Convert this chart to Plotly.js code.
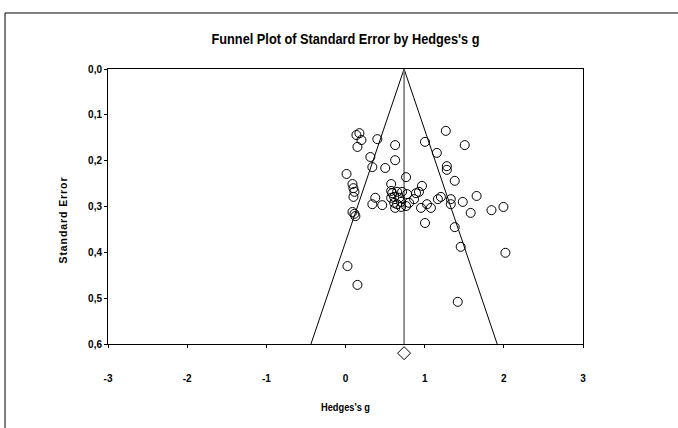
<!DOCTYPE html>
<html>
<head>
<meta charset="utf-8">
<script src="https://cdn.plot.ly/plotly-3.0.1.min.js"></script>
<style>html,body{margin:0;padding:0;background:#fff;}#chart{width:678px;height:428px;}</style>
</head>
<body>
<div id="chart"></div>
<script>
// Study effects (Hedges's g) and standard errors
const hedgesG = [
  0.138, 0.176, 0.201, 0.151, 0.402, 0.627, 0.314, 0.339, 0.502, 0.627, 0.013,
  0.088, 0.100, 0.113, 0.100, 0.088, 0.113, 0.125, 0.025, 0.151,
  0.765, 0.577, 0.577, 0.590, 0.652, 0.715, 0.778, 0.866, 0.615, 0.678, 0.376,
  0.339, 0.464, 0.577, 0.615, 0.652, 0.703, 0.703, 0.627, 0.765, 0.803,
  0.891, 0.928, 0.966, 0.954, 1.029, 1.079, 1.004, 1.167, 1.205, 1.330, 1.330,
  1.481, 1.656, 1.581, 1.844, 1.995, 1.380, 1.455, 2.020, 1.418,
  1.267, 1.004, 1.506, 1.154, 1.280, 1.280, 1.380
];
const stdErr = [
  0.144, 0.140, 0.155, 0.170, 0.153, 0.166, 0.192, 0.214, 0.216, 0.199, 0.229,
  0.251, 0.260, 0.268, 0.279, 0.312, 0.316, 0.321, 0.430, 0.471,
  0.236, 0.251, 0.266, 0.271, 0.268, 0.268, 0.273, 0.284, 0.279, 0.281, 0.281,
  0.295, 0.297, 0.281, 0.292, 0.295, 0.290, 0.301, 0.303, 0.299, 0.292,
  0.271, 0.268, 0.255, 0.303, 0.295, 0.303, 0.336, 0.284, 0.279, 0.284, 0.295,
  0.290, 0.277, 0.314, 0.308, 0.301, 0.345, 0.388, 0.401, 0.508,
  0.135, 0.159, 0.166, 0.183, 0.212, 0.220, 0.244
];
const meanEffect = 0.74;
const funnelX = [-0.436, 0.74, 1.916];
const funnelY = [0.6, 0.0, 0.6];
const diamondSE = [0.62];
const xTicks = [-3, -2, -1, 0, 1, 2, 3];
const yTicks = [0, 0.1, 0.2, 0.3, 0.4, 0.5, 0.6];

const FONT = '"Liberation Sans", Arial, sans-serif';

// plot area: top 69px, main axis bottom 344px, strip for the summary diamond down to 358px
const mainBottomFrac = (358 - 344) / (358 - 69);

const traces = [
  {x: funnelX, y: funnelY, mode: 'lines', type: 'scatter',
   line: {color: '#000', width: 1}, hoverinfo: 'skip', showlegend: false},
  {x: [meanEffect, meanEffect], y: [0, 0.6], mode: 'lines', type: 'scatter',
   line: {color: '#6e6e6e', width: 1.5}, hoverinfo: 'skip', showlegend: false},
  {x: hedgesG, y: stdErr, mode: 'markers', type: 'scatter',
   marker: {symbol: 'circle-open', size: 9, color: '#000', line: {width: 1, color: '#000'}},
   showlegend: false},
  {x: [meanEffect], y: diamondSE, xaxis: 'x2', yaxis: 'y2', mode: 'markers', type: 'scatter',
   cliponaxis: false,
   marker: {symbol: 'diamond-open', size: 10, color: '#000', line: {width: 1, color: '#000'}},
   showlegend: false}
];

const layout = {
  width: 678, height: 428,
  margin: {l: 108, r: 95, t: 69, b: 70},
  paper_bgcolor: '#fff', plot_bgcolor: 'rgba(0,0,0,0)',
  separators: ',.',
  font: {family: FONT, color: '#000', size: 10},
  title: {text: "<b>Funnel Plot of Standard Error by Hedges's g</b>",
          font: {family: FONT, size: 15, color: '#000'},
          x: 0.5, xref: 'paper', y: 0.91, yref: 'container', xanchor: 'center', yanchor: 'middle'},
  xaxis: {
    domain: [0, 1], anchor: 'y',
    range: [-3, 3], tickvals: xTicks, ticktext: xTicks.map(String),
    ticks: 'outside', ticklen: 3, tickcolor: '#000', ticklabelstandoff: 22,
    showline: true, linecolor: '#000', linewidth: 1, mirror: true,
    showgrid: false, zeroline: false, fixedrange: true,
    tickfont: {family: FONT, size: 10, color: '#000', weight: 'bold'},
    title: {text: "<b>Hedges's g</b>", font: {family: FONT, size: 10, color: '#000'}, standoff: 20}
  },
  yaxis: {
    domain: [mainBottomFrac, 1], anchor: 'x',
    range: [0.6, 0], tickvals: yTicks, tickformat: '.1f',
    ticks: 'outside', ticklen: 3, tickcolor: '#000',
    showline: true, linecolor: '#000', linewidth: 1, mirror: true,
    showgrid: false, zeroline: false, fixedrange: true,
    tickfont: {family: FONT, size: 10, color: '#000', weight: 'bold'},
    title: {text: '<b>Standard Error</b>', font: {family: FONT, size: 10.5, color: '#000'}, standoff: 18}
  },
  xaxis2: {domain: [0, 1], anchor: 'y2', range: [-3, 3], visible: false, fixedrange: true},
  yaxis2: {domain: [0, mainBottomFrac], anchor: 'x2',
           range: [0.6 + 14 / 458.3, 0.6], visible: false, fixedrange: true},
  shapes: [
    {type: 'line', xref: 'paper', yref: 'paper', x0: -0.2168, x1: 1.21, y0: 1.1938, y1: 1.1938,
     line: {color: '#000', width: 1}},
    {type: 'line', xref: 'paper', yref: 'paper', x0: -0.2168, x1: -0.2168, y0: 1.1938, y1: -0.3,
     line: {color: '#000', width: 1}}
  ]
};

Plotly.newPlot('chart', traces, layout, {staticPlot: true, displayModeBar: false}).then(function (gd) {
  // fit the real texts to the widths they have in the reference
  const fit = function (sel, len, adj) {
    const t = gd.querySelector(sel);
    if (t) { t.setAttribute('textLength', String(len)); t.setAttribute('lengthAdjust', adj); }
    return t;
  };
  fit('.gtitle', 268, 'spacingAndGlyphs');
  const yt = fit('.ytitle', 86, 'spacing');
  if (yt) { yt.setAttribute('transform', 'translate(0,14) ' + (yt.getAttribute('transform') || '')); }
  fit('.xtitle', 49, 'spacingAndGlyphs');
});
</script>
</body>
</html>
